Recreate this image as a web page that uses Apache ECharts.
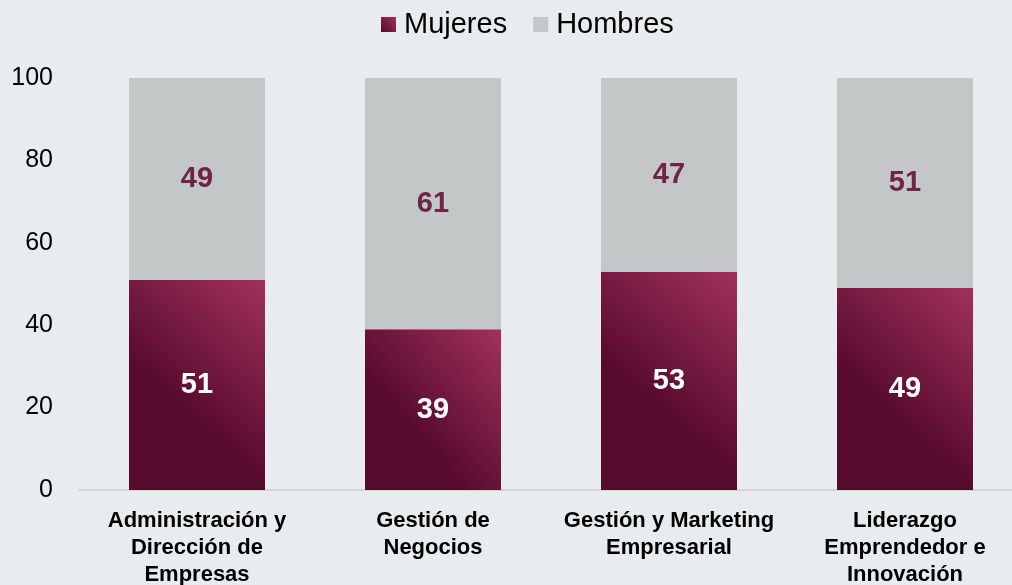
<!DOCTYPE html>
<html>
<head>
<meta charset="utf-8">
<script src="https://cdn.jsdelivr.net/npm/echarts@6/dist/echarts.min.js"></script>
<style>
  html, body { margin: 0; padding: 0; background: #e8ecee; }
  #chart { width: 1012px; height: 585px; }
</style>
</head>
<body>
<div id="chart"></div>
<script>
// categorías y valores (%)
const categories = [
  "Administración y\nDirección de\nEmpresas",
  "Gestión de\nNegocios",
  "Gestión y Marketing\nEmpresarial",
  "Liderazgo\nEmprendedor e\nInnovación"
];
const mujeres = [51, 39, 53, 49];
const hombres = [49, 61, 47, 51];
const yTicks = [0, 20, 40, 60, 80, 100];

const chart = echarts.init(document.getElementById("chart"));

const maroon = new echarts.graphic.LinearGradient(1, 0, 0.25, 0.55, [
  { offset: 0, color: "#a2315c" },
  { offset: 1, color: "#560a2c" },
]);

const option = {
  backgroundColor: "#e8ecee",
  animation: false,
  textStyle: { fontFamily: "Liberation Sans, Arial, sans-serif" },
  legend: {
    top: 5,
    left: 376,
    icon: "rect",
    itemWidth: 15,
    itemHeight: 15,
    itemGap: 26,
    textStyle: { fontSize: 29, color: "#000", padding: [0, 0, 0, 3] },
    data: [
      { name: "Mujeres", itemStyle: { color: new echarts.graphic.LinearGradient(1, 0, 0, 1, [
        { offset: 0, color: "#a2315c" }, { offset: 1, color: "#560a2c" }]) } },
      { name: "Hombres", itemStyle: { color: "#c3c7c8" } },
    ],
  },
  grid: { left: 79, top: 78, width: 944, bottom: 95, outerBoundsMode: "none" },
  xAxis: {
    type: "category",
    data: categories,
    axisLine: { lineStyle: { color: "#d4d4d4", width: 2 } },
    axisTick: { show: false },
    axisLabel: {
      color: "#000",
      fontSize: 22,
      fontWeight: "bold",
      lineHeight: 27,
      margin: 17,
      interval: 0,
    },
  },
  yAxis: {
    type: "value",
    min: yTicks[0],
    max: yTicks[yTicks.length - 1],
    interval: 20,
    axisLine: { show: false },
    axisTick: { show: false },
    splitLine: { show: false },
    axisLabel: { color: "#000", fontSize: 25, margin: 26 },
  },
  series: [
    {
      name: "Mujeres",
      type: "bar",
      stack: "total",
      barWidth: 136,
      data: mujeres,
      itemStyle: { color: maroon },
      label: {
        show: true,
        position: "inside",
        color: "#fff",
        fontSize: 29,
        fontWeight: "bold",
      },
    },
    {
      name: "Hombres",
      type: "bar",
      stack: "total",
      barWidth: 136,
      data: hombres,
      itemStyle: { color: "#c3c7c8" },
      label: {
        show: true,
        position: "inside",
        color: "#6e2347",
        fontSize: 29,
        fontWeight: "bold",
      },
    },
  ],
};

chart.setOption(option);
</script>
</body>
</html>
